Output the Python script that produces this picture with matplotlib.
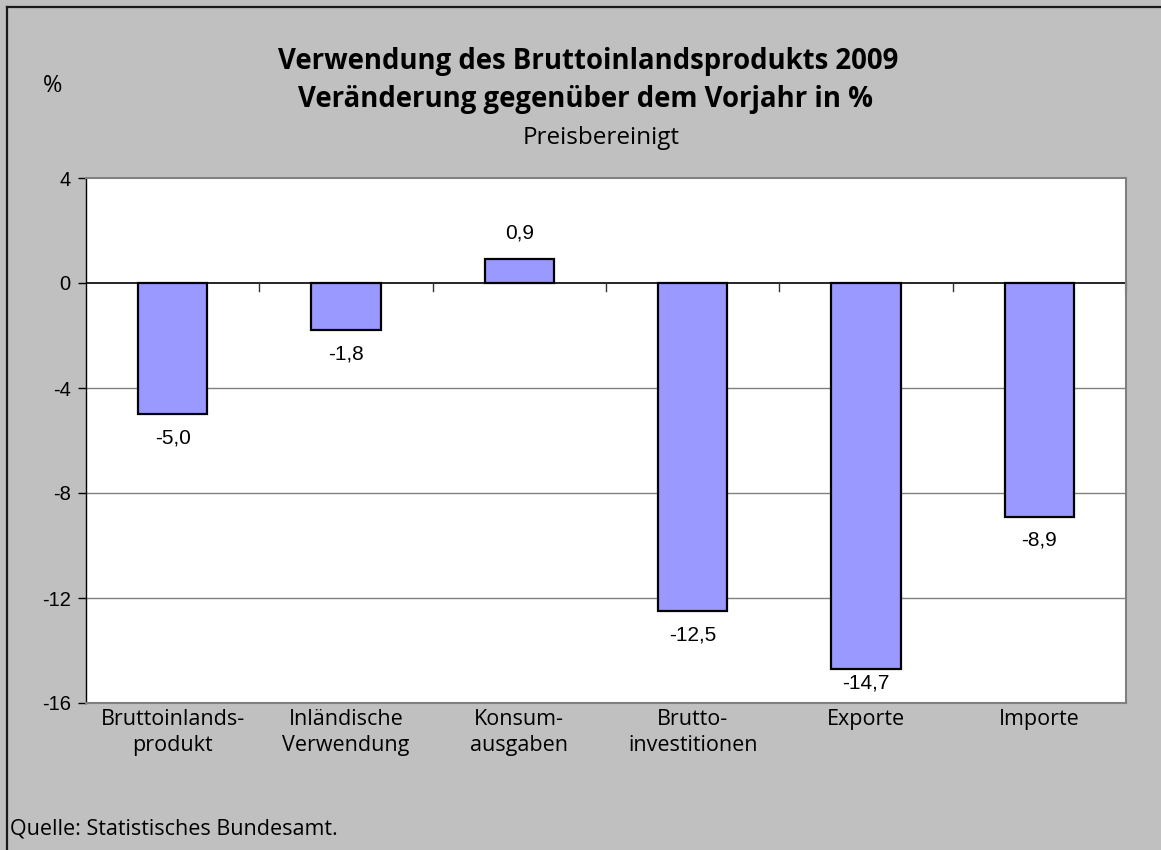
import matplotlib
matplotlib.use("Agg")
import matplotlib.pyplot as plt
from matplotlib.lines import Line2D

categories = ["Bruttoinlands-\nprodukt", "Inländische\nVerwendung", "Konsum-\nausgaben",
              "Brutto-\ninvestitionen", "Exporte", "Importe"]
values = [-5.0, -1.8, 0.9, -12.5, -14.7, -8.9]
yticks = [4, 0, -4, -8, -12, -16]

title1 = "Verwendung des Bruttoinlandsprodukts 2009"
title2 = "Veränderung gegenüber dem Vorjahr in %"
subtitle = "Preisbereinigt"
source = "Quelle: Statistisches Bundesamt."

HUM = ["Open Sans", "Noto Sans", "DejaVu Sans"]
ARIAL = ["Liberation Sans", "DejaVu Sans"]

W, H = 1161, 850
fig = plt.figure(figsize=(W / 100, H / 100), dpi=100)
fig.patch.set_facecolor("#C0C0C0")

# outer border (top and left visible)
fig.add_artist(Line2D([7 / W, 1], [1 - 7 / H, 1 - 7 / H], transform=fig.transFigure, color="#1a1a1a", lw=1.6))
fig.add_artist(Line2D([7 / W, 7 / W], [0, 1 - 7 / H], transform=fig.transFigure, color="#1a1a1a", lw=1.6))

left, right, top, bottom = 86, 1126, 178, 703
ax = fig.add_axes([left / W, 1 - bottom / H, (right - left) / W, (bottom - top) / H])
ax.set_facecolor("white")

x = list(range(len(values)))
bars = ax.bar(x, values, width=0.4, color="#9999FF", edgecolor="black", linewidth=1.6, zorder=3)

ax.set_xlim(-0.5, len(values) - 0.5)
ax.set_ylim(min(yticks), max(yticks))
ax.set_yticks(yticks)
ax.set_yticklabels([str(t) for t in yticks], fontfamily=ARIAL, fontsize=14.5)
ax.tick_params(axis="y", length=6, width=1, color="black", pad=5)

# gridlines
for t in yticks:
    if t in (max(yticks), min(yticks)):
        continue
    ax.axhline(t, color="#000000" if t == 0 else "#808080", lw=1.2 if t == 0 else 1.0, zorder=1)

# category ticks on zero line (Excel-like)
ax.set_xticks([])
for b in range(1, len(values)):
    ax.plot([b - 0.5, b - 0.5], [0, -0.3], color="#333333", lw=1.0, zorder=2)
ax.plot([len(values) - 0.5, len(values) - 0.5], [0, -0.3], color="#333333", lw=1.5, zorder=2, clip_on=False)

for s in ["top", "right", "bottom"]:
    ax.spines[s].set_color("#808080")
    ax.spines[s].set_linewidth(1.5)
ax.spines["left"].set_color("black")
ax.spines["left"].set_linewidth(1.0)

# category labels below plot
for i, c in enumerate(categories):
    ax.annotate(c, xy=(i, 0), xycoords=("data", "axes fraction"), xytext=(0, -4),
                textcoords="offset points", ha="center", va="top", fontfamily=HUM,
                fontsize=15.5, linespacing=1.35)

# value labels
ymin = min(yticks)
for i, v in enumerate(values):
    lab = f"{v:.1f}".replace(".", ",")
    if v >= 0:
        ax.annotate(lab, xy=(i, v), xytext=(0, 12), textcoords="offset points",
                    ha="center", va="bottom", fontfamily=ARIAL, fontsize=15)
    else:
        pad = 10 if (v - ymin) > 1.5 else 3
        ax.annotate(lab, xy=(i, v), xytext=(0, -pad), textcoords="offset points",
                    ha="center", va="top", fontfamily=ARIAL, fontsize=15)

fig.text(588 / W, 1 - 62 / H, title1, ha="center", va="center", fontfamily=HUM,
         fontweight="bold", fontsize=19.8)
fig.text(585 / W, 1 - 100 / H, title2, ha="center", va="center", fontfamily=HUM,
         fontweight="bold", fontsize=19.8)
fig.text(601 / W, 1 - 138 / H, subtitle, ha="center", va="center", fontfamily=HUM, fontsize=17.5)
fig.text(53 / W, 1 - 86 / H, "%", ha="center", va="center", fontfamily=HUM, fontsize=17)
fig.text(10 / W, 1 - 829 / H, source, ha="left", va="center", fontfamily=HUM, fontsize=15.5)

fig.savefig("out.png", dpi=100, facecolor=fig.get_facecolor())
